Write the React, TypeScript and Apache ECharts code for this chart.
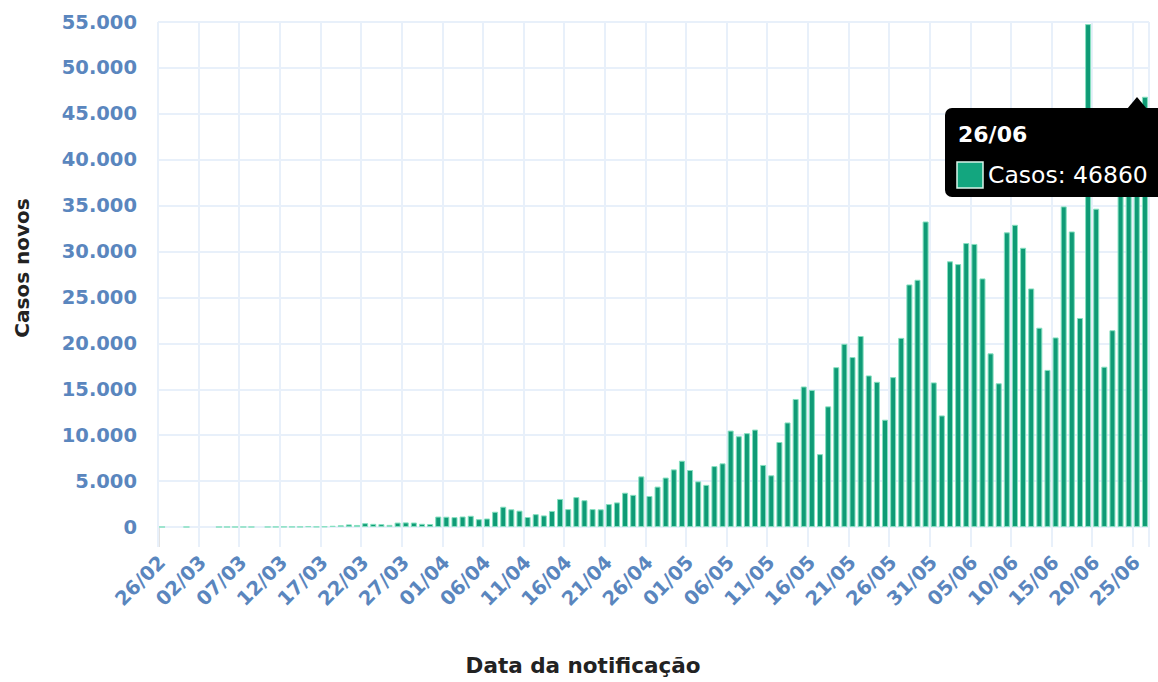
import React, { useEffect, useRef } from "react";
import * as echarts from "echarts";

// Date ranges: [month, firstDay, lastDay]
const dateRanges: number[][] = [
  [2, 26, 29],
  [3, 1, 31],
  [4, 1, 30],
  [5, 1, 31],
  [6, 1, 26],
];

const pad = (n: number) => (n < 10 ? "0" + n : String(n));
const datas: string[] = [];
dateRanges.forEach(([m, a, b]) => {
  for (let d = a; d <= b; d++) datas.push(pad(d) + "/" + pad(m));
});

// Casos novos por dia (26/02 a 26/06)
const casosFev = [1, 0, 0, 1];
const casosMar = [
  0, 0, 0, 1, 5, 5, 6, 6, 0, 9, 18, 25, 21, 23, 79, 34, 57, 137, 193, 283, 224,
  418, 345, 310, 232, 482, 502, 487, 352, 323, 1138,
];
const casosAbr = [
  1119, 1074, 1146, 1222, 852, 926, 1661, 2210, 1930, 1781, 1089, 1400, 1261,
  1750, 3058, 1950, 3257, 2917, 1950, 1927, 2498, 2678, 3735, 3503, 5514, 3379,
  4400, 5385, 6276, 7218,
];
const casosMai = [
  6209, 4970, 4588, 6633, 6935, 10503, 9888, 10222, 10611, 6760, 5632, 9258,
  11385, 13944, 15305, 14919, 7938, 13140, 17408, 19951, 18508, 20803, 16508,
  15813, 11687, 16324, 20599, 26417, 26928, 33274, 15750,
];
const casosJun = [
  12150, 28936, 28633, 30925, 30830, 27075, 18912, 15654, 32091, 32913, 30412,
  25982, 21704, 17110, 20647, 34918, 32188, 22765, 54771, 34666, 17459, 21432,
  39436, 42725, 39483, 46860,
];
const casos = [...casosFev, ...casosMar, ...casosAbr, ...casosMai, ...casosJun];

const yMin = 0;
const yMax = 55000;
const yInterval = 5000;

const fmt = (v: number) =>
  String(v).replace(/\B(?=(\d{3})+(?!\d))/g, ".");

export default function App() {
  const ref = useRef<HTMLDivElement>(null);
  useEffect(() => {
    document.body.style.margin = "0";
    const chart = echarts.init(ref.current!, null, { renderer: "svg" });
    const font = "DejaVu Sans";
    const blue = "#5a86be";
    const grid = "#e8f0fa";
    const last = casos.length - 1;
    chart.setOption({
      animation: false,
      textStyle: { fontFamily: font },
      grid: { left: 158, right: 9, top: 22, bottom: 155, containLabel: false },
      xAxis: {
        type: "category",
        data: datas,
        boundaryGap: true,
        axisLine: { show: false },
        axisTick: {
          show: true,
          interval: 4,
          length: 20,
          lineStyle: { color: grid, width: 2 },
        },
        axisLabel: {
          interval: 4,
          rotate: 45,
          margin: 32,
          color: blue,
          fontSize: 19.5,
          fontWeight: "bold",
          fontFamily: font,
        },
        splitLine: { show: true, interval: 4, lineStyle: { color: grid, width: 2 } },
      },
      yAxis: {
        type: "value",
        min: yMin,
        max: yMax,
        interval: yInterval,
        axisLine: { show: false },
        axisTick: { show: false },
        axisLabel: {
          margin: 21,
          color: blue,
          fontSize: 19.5,
          fontWeight: "bold",
          fontFamily: font,
          formatter: (v: number) => fmt(v),
        },
        splitLine: { lineStyle: { color: grid, width: 2 } },
      },
      series: [
        {
          type: "bar",
          name: "Casos",
          data: casos.map((v) =>
            v === 0 ? { value: v, itemStyle: { borderWidth: 0 } } : v
          ),
          barCategoryGap: "26%",
          itemStyle: {
            color: "#0f9b76",
            borderColor: "#86e0c0",
            borderWidth: 1,
          },
        },
      ],
      graphic: [
        {
          type: "line",
          shape: { x1: 158.5, y1: 528, x2: 158.5, y2: 547 },
          style: { stroke: "#8a8a8a", lineWidth: 1.5 },
        },
        {
          type: "text",
          x: 22,
          y: 268,
          rotation: Math.PI / 2,
          style: {
            text: "Casos novos",
            align: "center",
            verticalAlign: "middle",
            fontFamily: font,
            fontSize: 20,
            fontWeight: "bold",
            fill: "#222",
          },
        },
        {
          type: "text",
          x: 583,
          y: 665,
          style: {
            text: "Data da notificação",
            align: "center",
            verticalAlign: "middle",
            fontFamily: font,
            fontSize: 21.5,
            fontWeight: "bold",
            fill: "#222",
          },
        },
        {
          type: "polygon",
          shape: { points: [[1127, 109], [1137, 97], [1147, 109]] },
          style: { fill: "#000" },
          z: 100,
        },
        {
          type: "rect",
          shape: { x: 945, y: 108, width: 225, height: 89, r: 7 },
          style: { fill: "#000" },
          z: 100,
        },
        {
          type: "text",
          x: 958,
          y: 134,
          z: 101,
          style: {
            text: datas[last],
            verticalAlign: "middle",
            fontFamily: font,
            fontSize: 22,
            fontWeight: "bold",
            fill: "#fff",
          },
        },
        {
          type: "rect",
          shape: { x: 957, y: 162, width: 26, height: 26 },
          style: { fill: "#13a67f", stroke: "#d9f5ea", lineWidth: 1.5 },
          z: 101,
        },
        {
          type: "text",
          x: 988,
          y: 175,
          z: 101,
          style: {
            text: "Casos: " + casos[last],
            verticalAlign: "middle",
            fontFamily: font,
            fontSize: 23.5,
            fill: "#fff",
          },
        },
      ],
    });
    return () => chart.dispose();
  }, []);
  return <div ref={ref} style={{ width: 1158, height: 682 }} />;
}
